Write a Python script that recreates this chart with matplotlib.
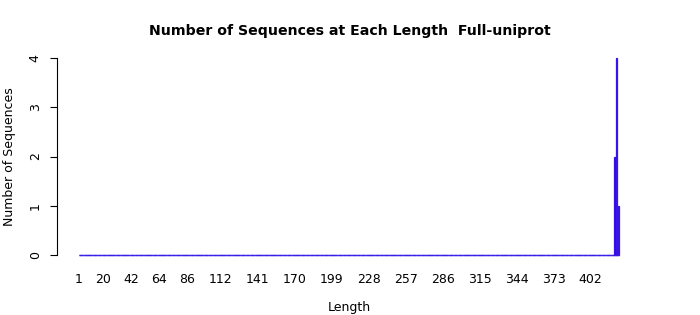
import numpy as np
import matplotlib
matplotlib.use("Agg")
import matplotlib.pyplot as plt

# Data: sequence lengths 1..max_length, most with zero counts
max_length = 424
nonzero_lengths = [421, 422, 424]
nonzero_counts = [2, 4, 1]
shown_tick_labels = [1, 20, 42, 64, 86, 112, 141, 170, 199, 228, 257, 286, 315, 344, 373, 402]
y_ticks = [0, 1, 2, 3, 4]

lengths = np.arange(1, max_length + 1)
counts = np.zeros(max_length)
for L, c in zip(nonzero_lengths, nonzero_counts):
    counts[L - 1] = c

# R barplot geometry: width 1, space 0.2
centers = 0.2 + (lengths - 1) * 1.2 + 0.5

fig = plt.figure(figsize=(7, 3.15), dpi=100)
ax = fig.add_axes([0.0813, 0.165, 0.8347, 0.676])

fill = "#4400CC"
edge = "#3A14E6"
# zero-height bars show as a continuous baseline in the reference
ax.hlines(0, centers[0] - 0.5, centers[-1] + 0.5, color="#3C3CF0", linewidth=1.0, zorder=1)
ax.bar(centers, counts, width=1.0, color=fill, edgecolor=edge, linewidth=0.9, zorder=2)

span = 1.2 * max_length
ax.set_xlim(0.2 - 0.04 * span, 0.2 + span + 0.04 * span)
ax.set_ylim(-0.16, 4.16)

for s in ["top", "right", "bottom"]:
    ax.spines[s].set_visible(False)
ax.spines["left"].set_bounds(0, 4)
ax.spines["left"].set_linewidth(0.8)

ax.set_yticks(y_ticks)
ax.set_yticklabels([str(v) for v in y_ticks], rotation=90, va="center", fontsize=9)
ax.tick_params(axis="y", length=5, width=0.8, pad=6)

tick_pos = [centers[l - 1] for l in shown_tick_labels]
ax.set_xticks(tick_pos)
ax.set_xticklabels([str(v) for v in shown_tick_labels], fontsize=9)
ax.tick_params(axis="x", length=0, pad=7)

ax.set_xlabel("Length", fontsize=9, labelpad=11)
ax.set_ylabel("Number of Sequences", fontsize=9, labelpad=9)
fig.suptitle("Number of Sequences at Each Length  Full-uniprot", fontsize=10.2,
             fontweight="bold", y=0.925)

fig.savefig("out.png", dpi=100)
